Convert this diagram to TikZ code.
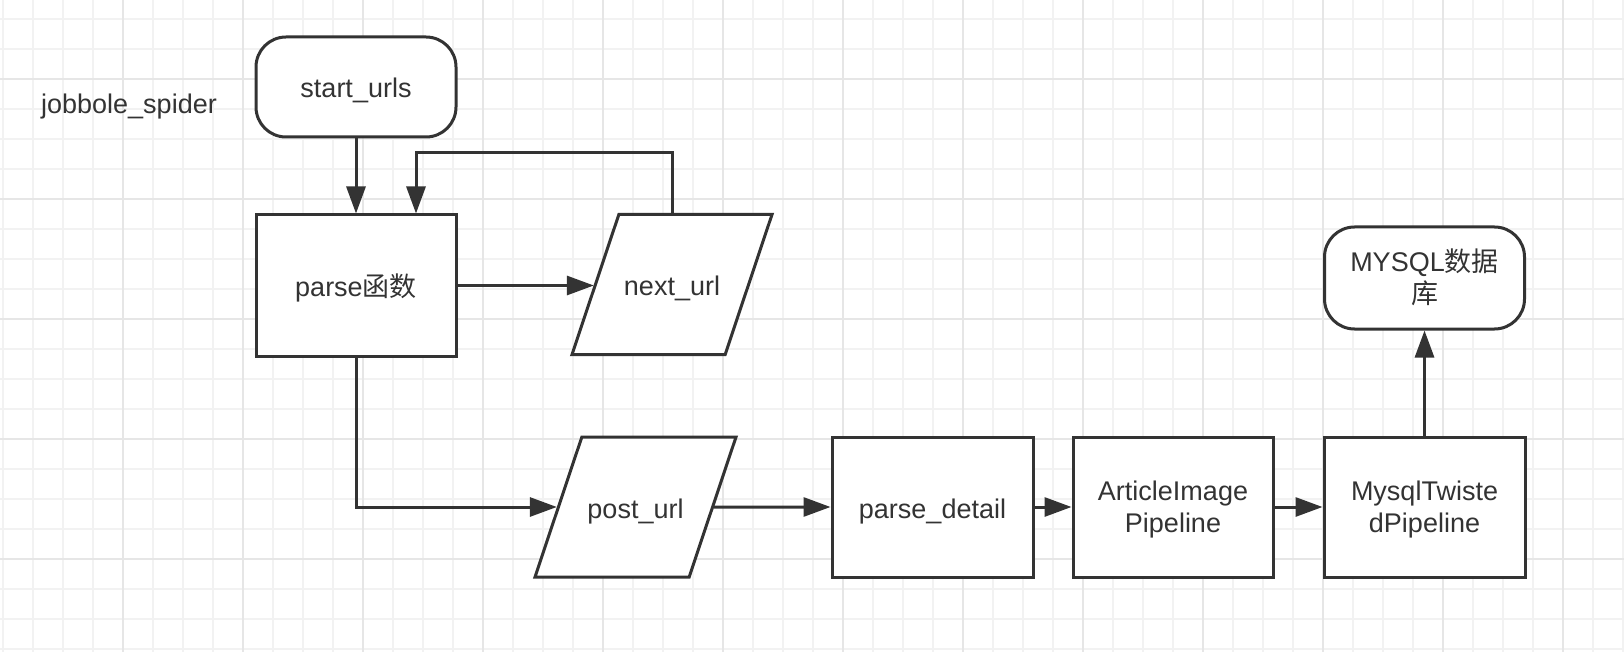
\documentclass[tikz,border=0pt]{standalone}
\usepackage{fontspec}
\setmainfont{Liberation Sans}
\newfontfamily\cjk{Noto Sans CJK SC}
\usetikzlibrary{arrows.meta,positioning,shapes.geometric}
\definecolor{ink}{HTML}{333333}
\definecolor{gridminor}{HTML}{F2F2F2}
\definecolor{gridmajor}{HTML}{E6E6E6}

\begin{document}
\begin{tikzpicture}[x=1pt,y=-1pt,>={Triangle[length=27pt,width=19pt]},
  font=\fontsize{27}{32}\selectfont,text=ink,
  oneline/.style={text height=24pt,text depth=2pt},
  twoline/.style={text height=54pt,text depth=4pt},
  procbox/.style={draw=ink,line width=3pt,fill=white,align=center,inner sep=0pt},
  termbox/.style={procbox,rounded corners=30pt},
  iobox/.style={procbox,oneline,trapezium,trapezium left angle=71.5,trapezium right angle=108.5,
    trapezium stretches body,inner ysep=57pt},
  flow/.style={->,draw=ink,line width=3pt}]
  \useasboundingbox (0,0) rectangle (1624,652);
  \fill[white] (0,0) rectangle (1624,652);
  % grid
  \foreach \x in {3,33,...,1623} \draw[gridminor,line width=1.5pt] (\x,0) -- (\x,652);
  \foreach \y in {19,49,...,649} \draw[gridminor,line width=1.5pt] (0,\y) -- (1624,\y);
  \foreach \x in {123,243,...,1563} \draw[gridmajor,line width=1.5pt] (\x,0) -- (\x,652);
  \foreach \y in {79,199,...,559} \draw[gridmajor,line width=1.5pt] (0,\y) -- (1624,\y);

  \node[anchor=base] (spider) at (129,114) {jobbole\_spider};
  \node[termbox,oneline,minimum width=200pt,minimum height=100pt] (start) at (356,87) {start\_urls};
  \node[procbox,oneline,minimum width=200pt,minimum height=141pt] (parse) at (356,285.5) {parse{\cjk 函数}};
  \node[iobox,minimum width=200pt] (nexturl) at (672,284.5) {next\_url};
  \node[iobox,minimum width=201pt] (posturl) at (635.5,507) {post\_url};
  \node[procbox,oneline,minimum width=201pt,minimum height=140pt] (detail) at (932.5,507) {parse\_detail};
  \node[procbox,twoline,minimum width=200pt,minimum height=140pt] (imgpipe) at (1173,507) {ArticleImage\\Pipeline};
  \node[procbox,twoline,minimum width=201pt,minimum height=140pt] (mysqlpipe) at (1424.5,507) {MysqlTwiste\\dPipeline};
  \node[termbox,twoline,minimum width=200pt,minimum height=102pt] (mysqldb) at (1424.5,278) {MYSQL{\cjk 数据}\\{\cjk 库}};

  \draw[flow] (start) -- (parse);
  \draw[flow] (parse.east) -- (parse.east -| nexturl.west);
  % next page back into parse
  \draw[flow] (nexturl.north) -- ++(0,-60) -| ([xshift=60pt]parse.north);
  \draw[flow] (parse.south) |- (posturl.west);
  \draw[flow] (posturl.east) -- (detail);
  \draw[flow] (detail) -- (imgpipe);
  \draw[flow] (imgpipe) -- (mysqlpipe);
  \draw[flow] (mysqlpipe) -- (mysqldb);
\end{tikzpicture}
\end{document}
